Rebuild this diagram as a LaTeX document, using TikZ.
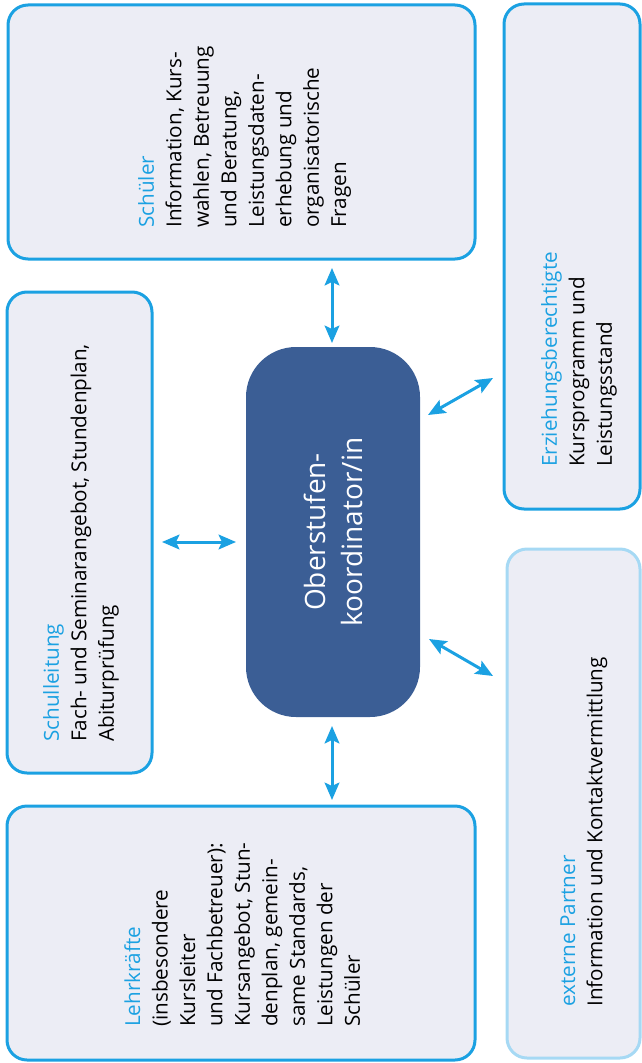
\documentclass[tikz,border=0pt]{standalone}
\usepackage{fontspec}
\setmainfont{Open Sans}
\usetikzlibrary{arrows.meta}
\definecolor{accent}{HTML}{1BA1E2}
\definecolor{paleaccent}{HTML}{A6D9F4}
\definecolor{boxfill}{HTML}{ECEDF5}
\definecolor{coordfill}{HTML}{3B5E95}
\newcommand{\px}{0.75pt}
\newcommand{\ttl}[1]{\textcolor{accent}{#1}}
\tikzset{
  panel/.style={draw=accent, fill=boxfill, line width=3*\px, rounded corners=20*\px,
    rectangle, inner sep=0pt},
  palepanel/.style={panel, draw=paleaccent},
  coordbox/.style={fill=coordfill, rounded corners=50*\px, rectangle, inner sep=0pt},
  body/.style={rotate=90, anchor=north west, inner sep=0pt, align=left,
    font=\fontsize{15.5}{20.6}\selectfont},
  link/.style={accent, line width=3*\px,
    {Stealth[length=13pt,width=11pt,inset=2.5pt]}-{Stealth[length=13pt,width=11pt,inset=2.5pt]}}
}
\begin{document}
\begin{tikzpicture}[x=0.75pt,y=-0.75pt]
\useasboundingbox (0,0) rectangle (642,1063);

% surrounding panels
\node[panel, minimum width=467*\px, minimum height=254*\px] (schueler) at (241.5,132) {};
\node[panel, minimum width=136*\px, minimum height=505*\px] (eltern) at (572,256.5) {};
\node[panel, minimum width=145*\px, minimum height=481*\px] (leitung) at (79.5,532.5) {};
\node[panel, minimum width=468*\px, minimum height=254*\px] (lehrer) at (241,933) {};
\node[palepanel, minimum width=133*\px, minimum height=509*\px] (extern) at (573.5,803.5) {};

% central coordinator
\node[coordbox, minimum width=174*\px, minimum height=370*\px] (koord) at (333,532) {};
\node[rotate=90, align=center, inner sep=0pt, text=white,
  font=\fontsize{21}{27.8}\selectfont] (koordtext) at (koord.center)
  {Oberstufen-\\koordinator/in};

% panel texts
\node[body] (schuelertext) at (138,228)
  {\ttl{Schüler}\\Information, Kurs-\\wahlen, Betreuung\\und Beratung,\\Leistungsdaten-\\erhebung und\\organisatorische\\Fragen};
\node[body] (leitungtext) at (43,742)
  {\ttl{Schulleitung}\\Fach- und Seminarangebot, Stundenplan,\\Abiturprüfung};
\node[body] (lehrertext) at (124,1027)
  {\ttl{Lehrkräfte}\\(insbesondere\\Kursleiter\\und Fachbetreuer):\\Kursangebot, Stun-\\denplan, gemein-\\same Standards,\\Leistungen der\\Schüler};
\node[body] (elterntext) at (541,467)
  {\ttl{Erziehungsberechtigte}\\Kursprogramm und\\Leistungsstand};
\node[body] (externtext) at (560,1007)
  {\ttl{externe Partner}\\Information und Kontaktvermittlung};

% connector end points
\coordinate (t1) at (332,268);  \coordinate (t2) at (332,343);
\coordinate (l1) at (162,542);  \coordinate (l2) at (236,542);
\coordinate (u1) at (428,415);  \coordinate (u2) at (493,378);
\coordinate (d1) at (429,639);  \coordinate (d2) at (493,676);
\coordinate (b1) at (332,726);  \coordinate (b2) at (332,800);

\draw[link] (t1) -- (t2);
\draw[link] (l1) -- (l2);
\draw[link] (u1) -- (u2);
\draw[link] (d1) -- (d2);
\draw[link] (b1) -- (b2);
\end{tikzpicture}
\end{document}
